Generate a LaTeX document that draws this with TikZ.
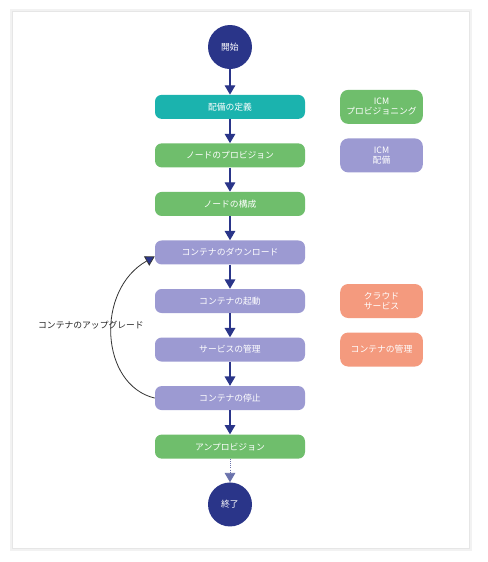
\documentclass[tikz,border=0pt]{standalone}
\usepackage{fontspec}
\setmainfont{Noto Sans CJK JP}
\usepackage{xcolor}
\usetikzlibrary{arrows.meta,positioning}
\definecolor{navy}{HTML}{2A3589}
\definecolor{teal}{HTML}{1BB3AE}
\definecolor{leaf}{HTML}{6FBE6C}
\definecolor{lilac}{HTML}{9C9AD2}
\definecolor{salmon}{HTML}{F49A7E}
\definecolor{frame}{HTML}{E6E6E6}

\begin{document}
\begin{tikzpicture}[
  x=0.75pt,y=-0.75pt,
  font=\fontsize{6.6}{8}\selectfont,
  node distance=18pt,
  stepbox/.style={rounded corners=5pt,text=white,align=center,minimum width=112.5pt,minimum height=18pt,inner sep=1pt},
  sidebox/.style={rounded corners=6pt,text=white,align=center,minimum width=62pt,minimum height=25.5pt,inner sep=1pt,font=\fontsize{6.6}{7.6}\selectfont},
  term/.style={circle,fill=navy,text=white,minimum size=33pt,inner sep=0pt},
  flow/.style={-{Triangle[length=7pt,width=8pt]},draw=navy,line width=0.9pt},
]
\useasboundingbox (0,0) rectangle (488,562);
% page frame with a soft shadow
\fill[black!5] (10,9) rectangle (472,551);
\draw[frame,fill=white,line width=0.5pt] (12,11) rectangle (469,548);

\node[term] (start) at (230,47) {開始};
\node[stepbox,fill=teal,below=19pt of start] (define) {配備の定義};
\node[stepbox,fill=leaf,below=of define] (provision) {ノードのプロビジョン};
\node[stepbox,fill=leaf,below=of provision] (configure) {ノードの構成};
\node[stepbox,fill=lilac,below=of configure] (download) {コンテナのダウンロード};
\node[stepbox,fill=lilac,below=of download] (launch) {コンテナの起動};
\node[stepbox,fill=lilac,below=of launch] (services) {サービスの管理};
\node[stepbox,fill=lilac,below=of services] (halt) {コンテナの停止};
\node[stepbox,fill=leaf,below=of halt] (unprovision) {アンプロビジョン};
\node[term,below=17.5pt of unprovision] (finish) {終了};

% legend on the right
\node[sidebox,fill=leaf,right=26pt of define] (icmprov) {ICM\\プロビジョニング};
\node[sidebox,fill=lilac,right=26pt of provision] (icmdeploy) {ICM\\配備};
\node[sidebox,fill=salmon,right=26pt of launch] (cloud) {クラウド\\サービス};
\node[sidebox,fill=salmon,right=26pt of services] (manage) {コンテナの管理};

\draw[flow] (start) -- (define);
\draw[flow] (define) -- (provision);
\draw[flow] (provision) -- (configure);
\draw[flow] (configure) -- (download);
\draw[flow] (download) -- (launch);
\draw[flow] (launch) -- (services);
\draw[flow] (services) -- (halt);
\draw[flow] (halt) -- (unprovision);
\draw[-{Triangle[length=7pt,width=8pt]},draw=navy!70,line width=0.6pt,densely dotted] (unprovision) -- (finish);

% upgrade loop
\draw[black!80,line width=0.6pt,-{Triangle[length=7pt,width=8pt,fill=navy]}] (halt.west) .. controls (100,385) and (95,290) .. ([yshift=-3pt]download.west);
\node[text=black!85] (upgrade) at (91,325) {コンテナのアップグレード};
\end{tikzpicture}
\end{document}
